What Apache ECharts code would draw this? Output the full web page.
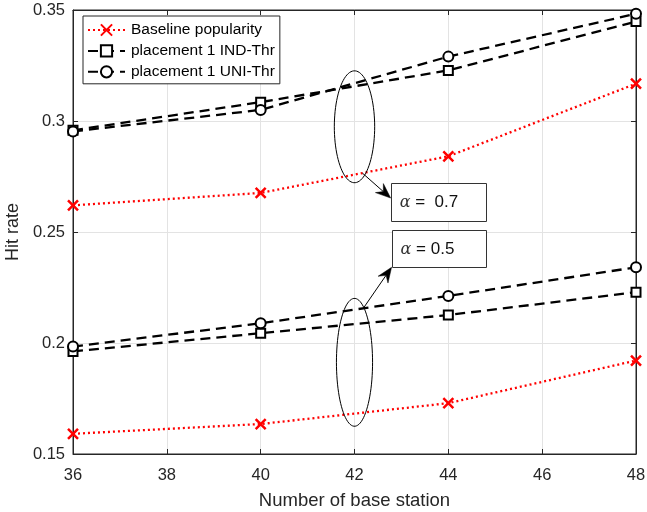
<!DOCTYPE html>
<html><head><meta charset="utf-8">
<script src="https://cdn.jsdelivr.net/npm/echarts@6/dist/echarts.min.js"></script>
<style>html,body{margin:0;padding:0;background:#fff}#c{width:647px;height:512px}</style>
</head><body><div id="c"></div>
<script>
const xVals = [36, 40, 44, 48];
const baseline07 = [0.262, 0.2676, 0.2841, 0.3168];
const ind07 = [0.2958, 0.3085, 0.3228, 0.3448];
const uni07 = [0.2953, 0.305, 0.329, 0.3483];
const baseline05 = [0.1591, 0.1635, 0.1729, 0.1921];
const ind05 = [0.1962, 0.2044, 0.2126, 0.2229];
const uni05 = [0.1984, 0.2089, 0.2212, 0.2341];
const legendNames = ['Baseline popularity', 'placement 1 IND-Thr', 'placement 1 UNI-Thr'];
const alphaValues = ['\u00a00.7', '0.5'];

const FONT = 'Liberation Sans, Arial, Helvetica, sans-serif';
const pair = ys => xVals.map((x, i) => [x, ys[i]]);
const dark = '#262626';

function redSeries(ys) {
  return { name: legendNames[0], type: 'line', data: pair(ys), symbol: 'path://M0,0L10,10M10,0L0,10',
    symbolSize: 10, showSymbol: true,
    itemStyle: { color: '#ff0000', borderColor: '#ff0000', borderWidth: 2.5 },
    lineStyle: { color: '#ff0000', width: 2.3, type: [2, 3] }, z: 3 };
}
function blackSeries(name, ys, sym) {
  return { name: name, type: 'line', data: pair(ys), symbol: sym, symbolSize: sym === 'circle' ? 10 : 9,
    itemStyle: { color: '#ffffff', borderColor: '#000', borderWidth: 2 },
    lineStyle: { color: '#000', width: 2.3, type: [10, 6] }, z: 4 };
}

const chart = echarts.init(document.getElementById('c'), null, { renderer: 'canvas' });
const grid = { left: 73, right: 11, top: 10, bottom: 58, containLabel: false, outerBoundsMode: 'none',
  show: true, borderColor: dark, borderWidth: 1, backgroundColor: '#fff' };
const axisCommon = {
  axisLine: { show: true, lineStyle: { color: dark, width: 1 } },
  axisTick: { show: true, inside: true, length: 5, lineStyle: { color: dark } },
};
chart.setOption({
  animation: false,
  grid: grid,
  textStyle: { fontFamily: FONT },
  legend: {
    data: legendNames, orient: 'vertical', left: 83, top: 16, padding: [6, 5, 4, 4],
    itemGap: 4.9, itemWidth: 37, itemHeight: 14,
    backgroundColor: '#fff', borderColor: dark, borderWidth: 1, borderRadius: 0,
    textStyle: { fontSize: 15.5, color: '#000', fontFamily: FONT, padding: [0, 0, 0, 1] }
  },
  xAxis: [
    Object.assign({ type: 'value', min: 36, max: 48, interval: 2, name: 'Number of base station',
      nameLocation: 'middle', nameGap: 37, nameTextStyle: { fontSize: 18.5, color: dark, fontFamily: FONT },
      axisLabel: { fontSize: 16.5, color: dark, margin: 13, fontFamily: FONT },
      splitLine: { show: true, lineStyle: { color: '#e3e3e3', width: 1 } } }, axisCommon),
    Object.assign({ type: 'value', min: 36, max: 48, interval: 2, position: 'top',
      axisLabel: { show: false }, splitLine: { show: false } }, axisCommon)
  ],
  yAxis: [
    Object.assign({ type: 'value', min: 0.15, max: 0.35, interval: 0.05, name: 'Hit rate',
      nameLocation: 'middle', nameGap: 43, nameTextStyle: { fontSize: 18, color: dark, fontFamily: FONT },
      axisLabel: { fontSize: 16.5, color: dark, margin: 8, fontFamily: FONT, formatter: v => String(+v.toFixed(2)) },
      splitLine: { show: true, lineStyle: { color: '#e3e3e3', width: 1 } } }, axisCommon),
    Object.assign({ type: 'value', min: 0.15, max: 0.35, interval: 0.05, position: 'right',
      axisLabel: { show: false }, splitLine: { show: false } }, axisCommon)
  ],
  series: [
    redSeries(baseline07),
    blackSeries(legendNames[1], ind07, 'rect'),
    blackSeries(legendNames[2], uni07, 'circle'),
    redSeries(baseline05),
    blackSeries(legendNames[1], ind05, 'rect'),
    blackSeries(legendNames[2], uni05, 'circle')
  ]
});

// annotations in data coordinates
const ellipses = [ { cx: 42, cy: 0.2974, rx: 0.43, ry: 0.0252 }, { cx: 42, cy: 0.1913, rx: 0.385, ry: 0.0288 } ];
const boxes = [ { x0: 42.77, y0: 0.2721, x1: 44.79, y1: 0.2552 }, { x0: 42.79, y0: 0.2509, x1: 44.79, y1: 0.2341 } ];
const arrows = [ { from: [42.17, 0.2765], to: [42.77, 0.2653] }, { from: [42.2, 0.2160], to: [42.79, 0.2341] } ];

const P = (x, y) => chart.convertToPixel({ gridIndex: 0 }, [x, y]);
const g = [];
ellipses.forEach(e => {
  const pts = [];
  for (let k = 0; k < 90; k++) {
    const t = k / 90 * Math.PI * 2;
    pts.push(P(e.cx + e.rx * Math.cos(t), e.cy + e.ry * Math.sin(t)));
  }
  g.push({ type: 'polygon', shape: { points: pts }, style: { fill: 'none', stroke: '#000', lineWidth: 1 }, z: 10 });
});
boxes.forEach((b, i) => {
  const a = P(b.x0, b.y0), c = P(b.x1, b.y1);
  g.push({ type: 'rect', shape: { x: Math.round(a[0]) + 0.5, y: Math.round(a[1]) + 0.5, width: Math.round(c[0] - a[0]), height: Math.round(c[1] - a[1]) },
    style: { fill: '#fff', stroke: '#333', lineWidth: 1 }, z: 10 });
  g.push({ type: 'text', x: a[0] + 9, y: (a[1] + c[1]) / 2 + 1, z: 11,
    style: { text: '{a|\u03b1} = ' + alphaValues[i], fontSize: 17, fill: '#111', fontFamily: FONT, verticalAlign: 'middle',
      rich: { a: { fontStyle: 'italic', fontFamily: 'DejaVu Serif', fontSize: 16, fill: '#333' } } } });
});
arrows.forEach(ar => {
  const s = P(ar.from[0], ar.from[1]), t = P(ar.to[0], ar.to[1]);
  const dx = t[0] - s[0], dy = t[1] - s[1], L = Math.hypot(dx, dy);
  const ux = dx / L, uy = dy / L, nx = -uy, ny = ux;
  const len = 15, w = 6;
  const b1 = [t[0] - ux * len + nx * w, t[1] - uy * len + ny * w];
  const b2 = [t[0] - ux * len - nx * w, t[1] - uy * len - ny * w];
  const mid = [t[0] - ux * len * 0.65, t[1] - uy * len * 0.65];
  g.push({ type: 'line', shape: { x1: s[0], y1: s[1], x2: mid[0], y2: mid[1] }, style: { stroke: '#000', lineWidth: 1 }, z: 10 });
  g.push({ type: 'polygon', shape: { points: [t, b1, mid, b2] }, style: { fill: '#000', stroke: '#000', lineWidth: 0.5 }, z: 10 });
});
chart.setOption({ graphic: g });
</script></body></html>
